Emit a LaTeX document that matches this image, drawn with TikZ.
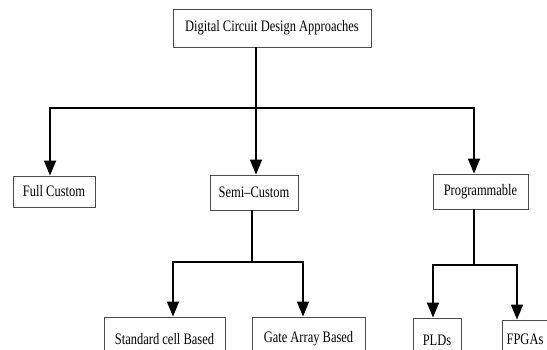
\documentclass[tikz,border=0pt]{standalone}
\usepackage{graphicx}
\usepackage{fontspec}
\setmainfont{Liberation Serif}
\usepackage{tikz}
\usetikzlibrary{arrows.meta}

\newcommand{\boxtext}[1]{\scalebox{0.78}[1]{#1}}

\begin{document}
\begin{tikzpicture}[x=1pt,y=-1pt,
        box/.style={draw=black!70, line width=0.9pt, inner sep=0pt, font=\fontsize{16}{18}\selectfont},
        link/.style={line width=1.8pt},
        arrow/.style={line width=1.8pt, -{Triangle[length=15pt,width=12pt]}}]
    \clip (0,0) rectangle (547,349);

    \node[box, minimum width=198, minimum height=38] (approach) at (272,28) {\boxtext{Digital Circuit Design Approaches}};
    \node[box, minimum width=82, minimum height=31] (full) at (54,191.5) {\boxtext{Full Custom}};
    \node[box, minimum width=88, minimum height=35] (semi) at (254,192.5) {\boxtext{Semi--Custom}};
    \node[box, minimum width=95, minimum height=35] (prog) at (480.5,191.5) {\boxtext{Programmable}};
    \node[box, minimum width=121, minimum height=44] (cell) at (164.5,339) {\boxtext{Standard cell Based}};
    \node[box, minimum width=113, minimum height=44] (gate) at (308.5,339) {\boxtext{Gate Array Based}};
    \node[box, minimum width=48, minimum height=44] (pld) at (437,340) {\boxtext{PLDs}};
    \node[box, minimum width=46, minimum height=38] (fpga) at (525,339) {\boxtext{FPGAs}};

    \coordinate (split) at (256,108);
    \draw[link] (approach.south -| split) -- (split);
    \draw[arrow] (split) -| ([xshift=-4]full.north);
    \draw[arrow] (split) -- (split |- semi.north);
    \draw[arrow] (split) -| ([xshift=-6.5]prog.north);

    \coordinate (semisplit) at (252,262);
    \draw[link] (semi.south -| semisplit) -- (semisplit);
    \draw[arrow] (semisplit) -| ([xshift=8.5]cell.north);
    \draw[arrow] (semisplit) -| ([xshift=-5.5]gate.north);

    \coordinate (progsplit) at (474,265);
    \draw[link] (prog.south -| progsplit) -- (progsplit);
    \draw[arrow] (progsplit) -| ([xshift=-4]pld.north);
    \draw[arrow] (progsplit) -| ([xshift=-8]fpga.north);
\end{tikzpicture}
\end{document}
